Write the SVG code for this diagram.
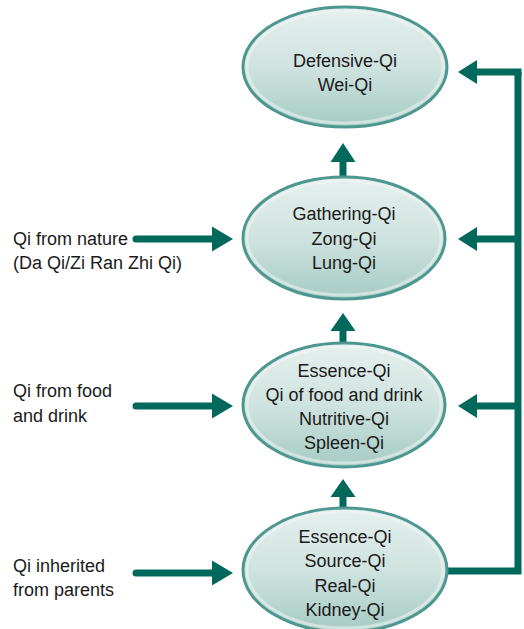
<svg xmlns="http://www.w3.org/2000/svg" width="524" height="629" viewBox="0 0 524 629">
  <style>
    .node-shape { fill: url(#nodeFill); stroke: #4e978e; stroke-width: 3; }
    .node-rim { fill: none; stroke: #eef6f4; stroke-width: 3; opacity: 0.55; }
    .node-text { font-family: "Liberation Sans", Arial, sans-serif; font-size: 18px; fill: #1a1a1a; text-anchor: middle; }
    .side-text { font-family: "Liberation Sans", Arial, sans-serif; font-size: 18px; fill: #1a1a1a; }
    .flow { fill: none; stroke: #00695c; stroke-width: 7; }
    .head { fill: #00695c; }
  </style>
  <defs>
    <linearGradient id="nodeFill" x1="0" y1="0" x2="0" y2="1">
      <stop offset="0" stop-color="#e6f0ee"/>
      <stop offset="0.5" stop-color="#cfe3df"/>
      <stop offset="1" stop-color="#a6cbc4"/>
    </linearGradient>
  </defs>

  <rect width="524" height="629" fill="#ffffff"/>

  <!-- connectors -->
  <g id="connectors">
    <!-- vertical flow between the four nodes -->
    <line class="flow" x1="343" y1="160" x2="343" y2="180"/>
    <polygon class="head" points="330.5,162 343,143 355.5,162"/>
    <line class="flow" x1="343" y1="329" x2="343" y2="346"/>
    <polygon class="head" points="330.5,331 343,313 355.5,331"/>
    <line class="flow" x1="343" y1="495" x2="343" y2="511"/>
    <polygon class="head" points="330.5,497 343,479 355.5,497"/>

    <!-- return loop on the right -->
    <path class="flow" d="M445,571 H518 V72"/>
    <path class="flow" d="M521.5,72 H474"/>
    <polygon class="head" points="477,60 458,72 477,84"/>
    <path class="flow" d="M518,239 H474"/>
    <polygon class="head" points="477,227 458,239 477,251"/>
    <path class="flow" d="M518,406 H474"/>
    <polygon class="head" points="477,394 458,406 477,418"/>

    <!-- inputs from the left -->
    <path class="flow" d="M136,239 H215" stroke-linecap="round"/>
    <polygon class="head" points="212,226.5 233,239 212,251.5"/>
    <path class="flow" d="M136,406 H215" stroke-linecap="round"/>
    <polygon class="head" points="212,393.5 233,406 212,418.5"/>
    <path class="flow" d="M136,573 H215" stroke-linecap="round"/>
    <polygon class="head" points="212,560.5 233,573 212,585.5"/>
  </g>

  <g id="defensive-qi">
    <ellipse class="node-shape" cx="345" cy="67" rx="102" ry="60"/>
    <ellipse class="node-rim" cx="345" cy="67" rx="98" ry="56"/>
    <text class="node-text" x="345" y="67">Defensive-Qi</text>
    <text class="node-text" x="345" y="91">Wei-Qi</text>
  </g>

  <g id="gathering-qi">
    <ellipse class="node-shape" cx="344" cy="238" rx="101" ry="61"/>
    <ellipse class="node-rim" cx="344" cy="238" rx="97" ry="57"/>
    <text class="node-text" x="344" y="220">Gathering-Qi</text>
    <text class="node-text" x="344" y="245">Zong-Qi</text>
    <text class="node-text" x="344" y="269">Lung-Qi</text>
  </g>

  <g id="essence-qi-food">
    <ellipse class="node-shape" cx="344" cy="405" rx="101" ry="62"/>
    <ellipse class="node-rim" cx="344" cy="405" rx="97" ry="58"/>
    <text class="node-text" x="344" y="377">Essence-Qi</text>
    <text class="node-text" x="344" y="401">Qi of food and drink</text>
    <text class="node-text" x="344" y="425">Nutritive-Qi</text>
    <text class="node-text" x="344" y="449">Spleen-Qi</text>
  </g>

  <g id="essence-qi-source">
    <ellipse class="node-shape" cx="345" cy="570" rx="102" ry="62"/>
    <ellipse class="node-rim" cx="345" cy="570" rx="98" ry="58"/>
    <text class="node-text" x="345" y="543">Essence-Qi</text>
    <text class="node-text" x="345" y="567">Source-Qi</text>
    <text class="node-text" x="345" y="592">Real-Qi</text>
    <text class="node-text" x="345" y="616">Kidney-Qi</text>
  </g>

  <g id="qi-from-nature">
    <text class="side-text" x="13" y="245">Qi from nature</text>
    <text class="side-text" x="13" y="269">(Da Qi/Zi Ran Zhi Qi)</text>
  </g>

  <g id="qi-from-food">
    <text class="side-text" x="13" y="397">Qi from food</text>
    <text class="side-text" x="13" y="422">and drink</text>
  </g>

  <g id="qi-inherited">
    <text class="side-text" x="13" y="572">Qi inherited</text>
    <text class="side-text" x="13" y="596">from parents</text>
  </g>
</svg>
